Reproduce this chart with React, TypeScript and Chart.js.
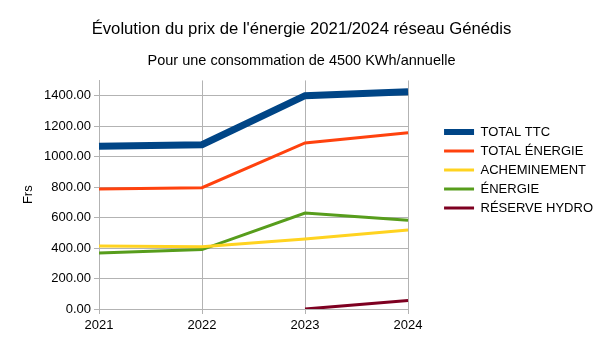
import React, { useEffect, useRef } from "react";
import { Chart, registerables } from "chart.js";

Chart.register(...registerables);

const years = ["2021", "2022", "2023", "2024"];
const totalTTC = [1068, 1078, 1400, 1425];
const totalEnergie = [787, 796, 1090, 1156];
const acheminement = [414, 408, 460, 518];
const energie = [368, 390, 630, 583];
const reserveHydro = [null, null, 0, 55];

const seriesNames = ["TOTAL TTC", "TOTAL ÉNERGIE", "ACHEMINEMENT", "ÉNERGIE", "RÉSERVE HYDRO"];
const seriesColors = ["#004586", "#ff420e", "#ffd320", "#579d1c", "#7e0021"];
const seriesWidths = [7, 3, 3, 3, 3];
const legendWidths = [6, 3, 3, 3, 3];

const titleText = "Évolution du prix de l'énergie 2021/2024 réseau Génédis";
const subtitleText = "Pour une consommation de 4500 KWh/annuelle";
const yAxisTitle = "Frs";
const yMin = 0;
const yMax = 1500;
const yStep = 100;
const yLabelStep = 200;

const FONT = "'Liberation Sans', Arial, sans-serif";
const GRID = "#b3b3b3";

export default function App() {
  const ref = useRef<HTMLCanvasElement | null>(null);
  useEffect(() => {
    if (!ref.current) return;
    const values = [totalTTC, totalEnergie, acheminement, energie, reserveHydro];
    const chart = new Chart(ref.current, {
      type: "line",
      data: {
        labels: years,
        datasets: values.map((v, i) => ({
          label: seriesNames[i],
          data: v as any,
          borderColor: seriesColors[i],
          backgroundColor: seriesColors[i],
          borderWidth: seriesWidths[i],
          pointRadius: 0,
          pointHoverRadius: 0,
          tension: 0,
          fill: false,
          borderJoinStyle: "miter" as const,
          yAxisID: "y",
        })),
      },
      options: {
        responsive: false,
        animation: false,
        events: [],
        layout: { padding: { left: 0, right: 2, top: 0, bottom: 0 } },
        plugins: {
          title: {
            display: true,
            text: titleText,
            color: "#000",
            font: { family: FONT, size: 16.7, weight: "normal" },
            padding: { top: 19, bottom: 8 },
          },
          subtitle: {
            display: true,
            text: subtitleText,
            color: "#000",
            font: { family: FONT, size: 14.5, weight: "normal" },
            padding: { top: 5, bottom: 11 },
          },
          legend: {
            position: "right",
            align: "center",
            maxWidth: 220,
            labels: {
              usePointStyle: true,
              pointStyleWidth: 30,
              padding: 6,
              color: "#000",
              font: { family: FONT, size: 13 },
              generateLabels: (c: any) =>
                c.data.datasets.map((ds: any, i: number) => ({
                  text: ds.label,
                  fillStyle: seriesColors[i],
                  strokeStyle: seriesColors[i],
                  lineWidth: legendWidths[i],
                  pointStyle: "line",
                  hidden: false,
                  datasetIndex: i,
                  fontColor: "#000",
                })),
            },
          },
          tooltip: { enabled: false },
        },
        scales: {
          x: {
            type: "category",
            offset: false,
            grid: { color: GRID, tickLength: 5, tickColor: GRID },
            border: { color: GRID },
            ticks: { color: "#000", padding: 4, font: { family: FONT, size: 13 }, maxRotation: 0 },
            afterFit: (s: any) => {
              s.height = 31;
            },
          },
          y: {
            min: yMin,
            max: yMax,
            grid: { color: GRID, tickLength: 5, tickColor: GRID },
            border: { color: GRID },
            ticks: {
              stepSize: yStep,
              color: "#000",
              padding: 3,
              font: { family: FONT, size: 13 },
              callback: (v: any) => (Number(v) % yLabelStep === 0 && Number(v) < yMax ? Number(v).toFixed(2) : ""),
            },
            title: {
              display: true,
              text: yAxisTitle,
              color: "#000",
              font: { family: FONT, size: 13 },
              padding: { top: 21, bottom: 0 },
            },
            afterFit: (s: any) => {
              s.width = 99;
            },
          },
          spacer: {
            type: "linear",
            position: "right",
            display: true,
            grid: { display: false, drawTicks: false },
            border: { display: false },
            ticks: { display: false },
            afterFit: (s: any) => {
              s.width = 30;
            },
          },
        },
      },
    });
    return () => chart.destroy();
  }, []);
  return (
    <div style={{ position: "absolute", left: 0, top: 0, width: 605, height: 340, background: "#fff" }}>
      <canvas ref={ref} width={605} height={340} />
    </div>
  );
}
